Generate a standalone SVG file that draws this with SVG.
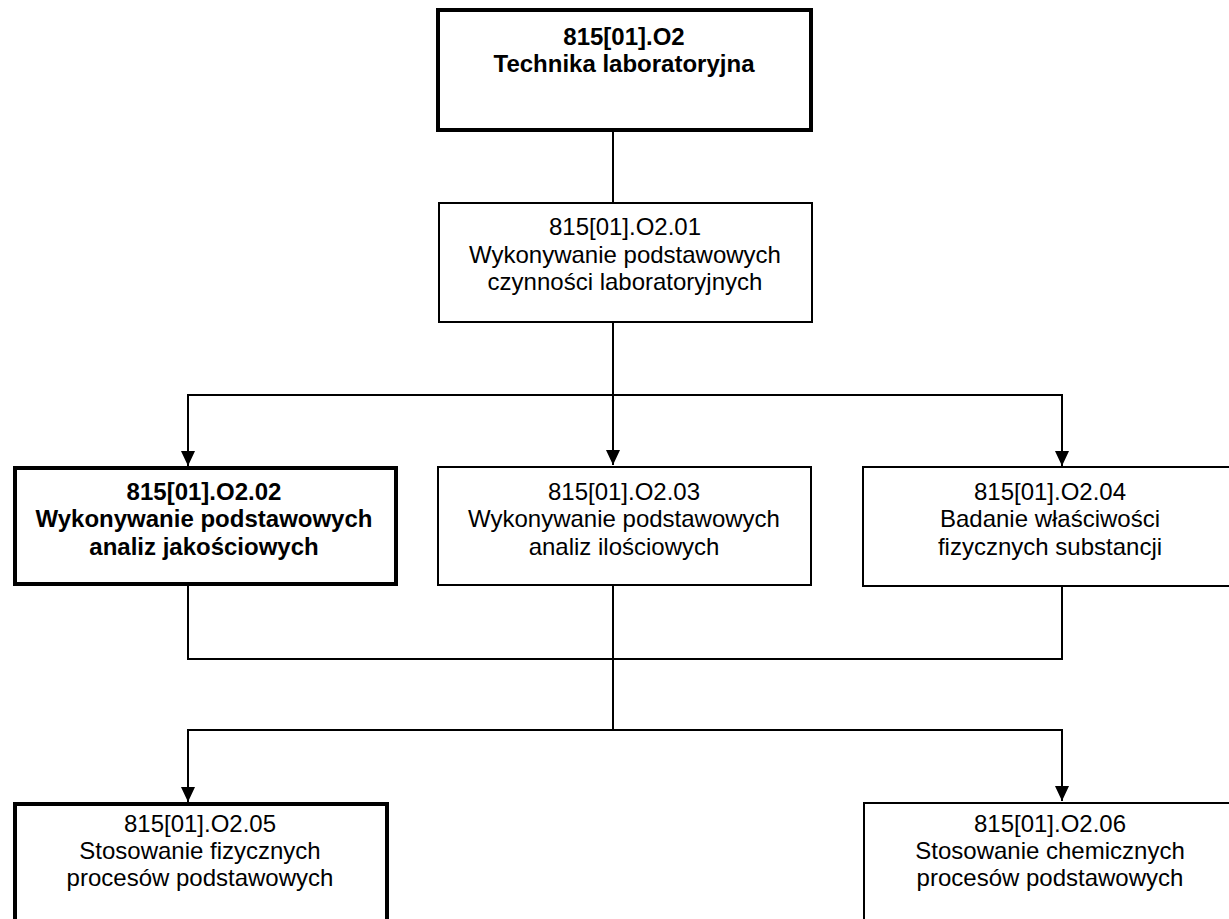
<svg xmlns="http://www.w3.org/2000/svg" width="1229" height="919" viewBox="0 0 1229 919">
<style>
  .box { fill: #ffffff; stroke: #000000; }
  .thin { stroke-width: 2; }
  .thick { stroke-width: 4; }
  .t { font-family: "Liberation Sans", Arial, sans-serif; font-size: 24px; fill: #000000; text-anchor: middle; }
  .b { font-weight: bold; }
  .conn { fill: none; stroke: #000000; stroke-width: 2; }
</style>
<defs>
  <marker id="arrd" markerUnits="userSpaceOnUse" markerWidth="16" markerHeight="14" refX="15" refY="7" orient="auto" viewBox="0 0 16 14">
    <polygon points="0,0 15,7 0,14" fill="#000000"/>
  </marker>
</defs>

<g id="connectors">
  <line class="conn" x1="613" y1="131" x2="613" y2="202"/>
  <line class="conn" x1="613" y1="322" x2="613" y2="465" marker-end="url(#arrd)"/>
  <line class="conn" x1="187" y1="395" x2="1063" y2="395"/>
  <polyline class="conn" points="188,395 188,466" marker-end="url(#arrd)"/>
  <polyline class="conn" points="1062,395 1062,466" marker-end="url(#arrd)"/>
  <polyline class="conn" points="188,585 188,659 1062,659 1062,586"/>
  <line class="conn" x1="613" y1="585" x2="613" y2="730"/>
  <line class="conn" x1="187" y1="730" x2="1063" y2="730"/>
  <polyline class="conn" points="188,730 188,802" marker-end="url(#arrd)"/>
  <polyline class="conn" points="1062,730 1062,801" marker-end="url(#arrd)"/>
</g>

<g id="node-o2">
  <rect class="box thick" x="438" y="10" width="373" height="120"/>
  <text class="t b" x="624" y="45">815[01].O2</text>
  <text class="t b" x="624" y="72">Technika laboratoryjna</text>
</g>

<g id="node-o2-01">
  <rect class="box thin" x="439" y="203" width="373" height="119"/>
  <text class="t" x="625" y="235">815[01].O2.01</text>
  <text class="t" x="625" y="263">Wykonywanie podstawowych</text>
  <text class="t" x="625" y="290">czynności laboratoryjnych</text>
</g>

<g id="node-o2-02">
  <rect class="box thick" x="15" y="468" width="381" height="116"/>
  <text class="t b" x="204" y="500">815[01].O2.02</text>
  <text class="t b" x="204" y="527">Wykonywanie podstawowych</text>
  <text class="t b" x="204" y="555">analiz jakościowych</text>
</g>

<g id="node-o2-03">
  <rect class="box thin" x="438" y="467" width="373" height="118"/>
  <text class="t" x="624" y="500">815[01].O2.03</text>
  <text class="t" x="624" y="527">Wykonywanie podstawowych</text>
  <text class="t" x="624" y="555">analiz ilościowych</text>
</g>

<g id="node-o2-04">
  <rect class="box thin" x="863" y="467" width="400" height="119"/>
  <text class="t" x="1050" y="500">815[01].O2.04</text>
  <text class="t" x="1050" y="527">Badanie właściwości</text>
  <text class="t" x="1050" y="555">fizycznych substancji</text>
</g>

<g id="node-o2-05">
  <rect class="box thick" x="15" y="804" width="372" height="140"/>
  <text class="t" x="200" y="832">815[01].O2.05</text>
  <text class="t" x="200" y="859">Stosowanie fizycznych</text>
  <text class="t" x="200" y="886">procesów podstawowych</text>
</g>

<g id="node-o2-06">
  <rect class="box thin" x="864" y="803" width="400" height="140"/>
  <text class="t" x="1050" y="832">815[01].O2.06</text>
  <text class="t" x="1050" y="859">Stosowanie chemicznych</text>
  <text class="t" x="1050" y="886">procesów podstawowych</text>
</g>
</svg>
